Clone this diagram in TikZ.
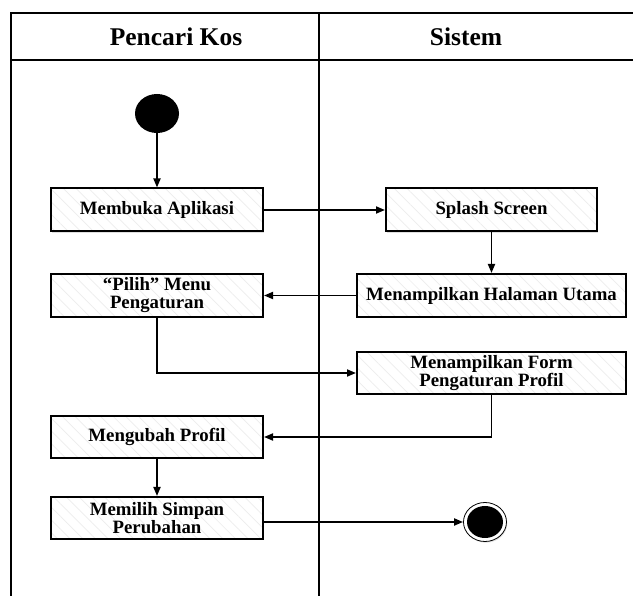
\documentclass[tikz,border=0pt]{standalone}
\usepackage{fontspec}
\setmainfont{Liberation Serif}
\usetikzlibrary{arrows.meta,shapes.geometric,patterns.meta,shadows}
\begin{document}
\begin{tikzpicture}[x=1pt,y=-1pt,
  lane/.style={line width=2.8pt,line cap=rect},
  act/.style={draw,line width=2pt,
    drop shadow={shadow xshift=1.2pt,shadow yshift=-1.2pt,opacity=0.25,fill=gray},
    preaction={fill=white},
    preaction={pattern={Lines[angle=-45,distance=9pt,line width=0.7pt]},pattern color=gray!14},
    minimum height=43pt,inner sep=2pt,align=center,
    font=\fontsize{18.8}{18}\selectfont\bfseries},
  flow/.style={line width=1.8pt,-{Triangle[length=9pt,width=7pt]}},
  title/.style={font=\fontsize{25.5}{28}\selectfont\bfseries}]
\useasboundingbox (0,0) rectangle (633,596);

% swimlane frame
\draw[lane] (633,13) -- (11,13) -- (11,596);
\draw[lane] (11,60) -- (633,60);
\draw[lane] (319,13) -- (319,596);
\node[title] (h1) at (176,37) {Pencari Kos};
\node[title] (h2) at (466,37) {Sistem};

% initial and final states
\node[ellipse,fill=black,minimum width=44pt,minimum height=39pt,inner sep=0pt] (start) at (157,113.5) {};
\node[ellipse,draw,line width=0.8pt,fill=white,minimum width=43pt,minimum height=39pt,inner sep=0pt,
  drop shadow={shadow xshift=0.8pt,shadow yshift=-1.2pt,opacity=0.25,fill=gray}] (end) at (485,522) {};
\node[ellipse,fill=black,minimum width=36pt,minimum height=32pt,inner sep=0pt] (endin) at (485,522) {};

% activities
\node[act,minimum width=212pt] (buka) at (157,210) {Membuka Aplikasi};
\node[act,minimum width=211pt] (splash) at (491.5,210) {Splash Screen};
\node[act,minimum width=269pt] (utama) at (491.5,295.5) {Menampilkan Halaman Utama};
\node[act,minimum width=212pt] (pilih) at (157,295.5) {``Pilih'' Menu\\Pengaturan};
\node[act,minimum width=269pt,minimum height=42pt] (form) at (491.5,373) {Menampilkan Form\\Pengaturan Profil};
\node[act,minimum width=212pt,minimum height=42pt] (ubah) at (157,437) {Mengubah Profil};
\node[act,minimum width=212pt,minimum height=42pt] (simpan) at (157,518) {Memilih Simpan\\Perubahan};

% control flow
\draw[flow] (start) -- (buka);
\draw[flow] (buka) -- (splash);
\draw[flow] (splash) -- (utama);
\draw[flow] (utama) -- (pilih);
\draw[flow] (pilih.south) |- (form.west);
\draw[flow] (form.south) |- (ubah.east);
\draw[flow] (ubah) -- (simpan);
\draw[flow] (simpan.east |- end.west) -- (end.west);
\end{tikzpicture}
\end{document}
